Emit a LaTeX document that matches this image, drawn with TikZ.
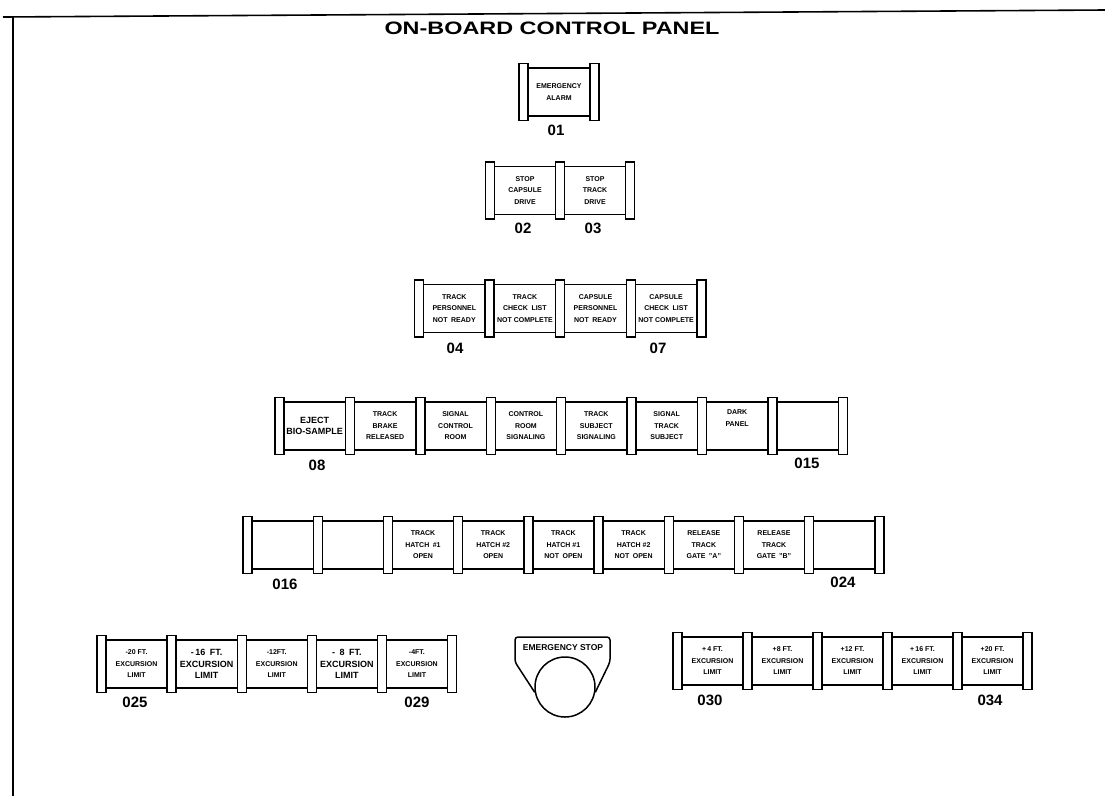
\documentclass[tikz,border=0pt]{standalone}
\usepackage{fontspec}
\setmainfont{Liberation Sans}
\newfontfamily\titlefont{Liberation Sans}[FakeStretch=1.3]
\usetikzlibrary{calc}

\tikzset{
  frame/.style={line width=1.6pt},
  pwin/.style={draw, line width=1.5pt, fill=white, minimum width=#1,
    minimum height=48pt, inner sep=1pt, align=center,
    font=\bfseries\fontsize{7}{11.5}\selectfont},
  pwin/.default=70pt,
  bigtxt/.style={font=\bfseries\fontsize{9}{11.5}\selectfont},
  pbar/.style={draw, line width=1.4pt, fill=white, minimum width=9pt,
    minimum height=57pt, inner sep=0pt},
  pnum/.style={font=\bfseries\fontsize{15}{15}\selectfont},
  title/.style={font=\titlefont\bfseries\fontsize{18}{18}\selectfont},
}

\begin{document}
\begin{tikzpicture}[x=1pt,y=-1pt]
  \useasboundingbox (0,0) rectangle (1105,796);
  \draw[frame] (3,17) -- (1105,10);
  \draw[frame] (13,16) -- (13,796);
  \node[title] (title) at (552,28) {ON-BOARD CONTROL PANEL};

  % 01
  \node[pwin=71pt] (a1) at (559,92) {EMERGENCY\\ALARM};
  \foreach \k in {0,1} \node[pbar] (ab\k) at ({523.5+\k*71},92) {};
  \node[pnum] (n01) at (556,130) {01};

  % 02 - 03
  \foreach \k/\txt in {1/{STOP\\CAPSULE\\DRIVE}, 2/{STOP\\TRACK\\DRIVE}}
    \node[pwin] (b\k) at ({490+(\k-0.5)*70},190.5) {\txt};
  \foreach \k in {0,...,2} \node[pbar] (bb\k) at ({490+\k*70},190.5) {};
  \node[pnum] (n02) at (523,228) {02};
  \node[pnum] (n03) at (593,228) {03};

  % 04 - 07
  \foreach \k/\txt in {1/{TRACK\\PERSONNEL\\NOT\enspace READY},
      2/{TRACK\\CHECK\enspace LIST\\NOT COMPLETE},
      3/{CAPSULE\\PERSONNEL\\NOT\enspace READY},
      4/{CAPSULE\\CHECK\enspace LIST\\NOT COMPLETE}}
    \node[pwin=70.6pt] (c\k) at ({419+(\k-0.5)*70.6},308.5) {\txt};
  \foreach \k in {0,...,4} \node[pbar] (cb\k) at ({419+\k*70.6},308.5) {};
  \node[pnum] (n04) at (455,348) {04};
  \node[pnum] (n07) at (658,348) {07};

  % 08 - 015
  \node[pwin=70.4pt, bigtxt] (d1) at (314.7,426) {EJECT\\BIO-SAMPLE};
  \foreach \k/\txt in {2/{TRACK\\BRAKE\\RELEASED}, 3/{SIGNAL\\CONTROL\\ROOM},
      4/{CONTROL\\ROOM\\SIGNALING}, 5/{TRACK\\SUBJECT\\SIGNALING},
      6/{SIGNAL\\TRACK\\SUBJECT}, 7/{DARK\\PANEL\\[4pt]}, 8/{}}
    \node[pwin=70.4pt] (d\k) at ({279.5+(\k-0.5)*70.4},426) {\txt};
  \foreach \k in {0,...,8} \node[pbar] (db\k) at ({279.5+\k*70.4},426) {};
  \node[pnum] (n08) at (317,465) {08};
  \node[pnum] (n015) at (807,463) {015};

  % 016 - 024
  \foreach \k/\txt in {1/{}, 2/{}, 3/{TRACK\\HATCH\enspace\#1\\OPEN},
      4/{TRACK\\HATCH \#2\\OPEN}, 5/{TRACK\\HATCH \#1\\NOT\enspace OPEN},
      6/{TRACK\\HATCH \#2\\NOT\enspace OPEN}, 7/{RELEASE\\TRACK\\GATE\enspace"A"},
      8/{RELEASE\\TRACK\\GATE\enspace"B"}, 9/{}}
    \node[pwin=70.2pt] (e\k) at ({247.5+(\k-0.5)*70.2},545) {\txt};
  \foreach \k in {0,...,9} \node[pbar] (eb\k) at ({247.5+\k*70.2},545) {};
  \node[pnum] (n016) at (285,584) {016};
  \node[pnum] (n024) at (843,582) {024};

  % 025 - 029
  \foreach \k/\txt in {1/{-20 FT.}, 3/{-12FT.}, 5/{-4FT.}}
    \node[pwin=70.1pt] (f\k) at ({101.5+(\k-0.5)*70.1},664) {\txt\\EXCURSION\\LIMIT};
  \node[pwin=70.1pt, bigtxt] (f2) at (206.65,664) {-\,16\enspace FT.\\EXCURSION\\LIMIT};
  \node[pwin=70.1pt, bigtxt] (f4) at (346.85,664) {-\enspace8\enspace FT.\\EXCURSION\\LIMIT};
  \foreach \k in {0,...,5} \node[pbar] (fb\k) at ({101.5+\k*70.1},664) {};
  \node[pnum] (n025) at (135,702) {025};
  \node[pnum] (n029) at (417,702) {029};

  % emergency stop
  \node[circle, draw, line width=1.5pt, minimum size=60pt, inner sep=0pt] (stopbtn) at (565,687) {};
  \draw[line width=1.5pt, rounded corners=3pt] (stopbtn.190) -- (515,662) -- (515,637)
    -- (610,637) -- (610,662) -- (stopbtn.350);
  \node[font=\bfseries\fontsize{8.5}{10}\selectfont] (stoplbl) at (563,648) {EMERGENCY STOP};

  % 030 - 034
  \foreach \k/\txt in {1/{+\,4 FT.}, 2/{+8 FT.}, 3/{+12 FT.}, 4/{+\,16 FT.}, 5/{+20 FT.}}
    \node[pwin=70pt] (g\k) at ({677.5+(\k-0.5)*70},661) {\txt\\EXCURSION\\LIMIT};
  \foreach \k in {0,...,5} \node[pbar] (gb\k) at ({677.5+\k*70},661) {};
  \node[pnum] (n030) at (710,700) {030};
  \node[pnum] (n034) at (990,700) {034};
\end{tikzpicture}
\end{document}
